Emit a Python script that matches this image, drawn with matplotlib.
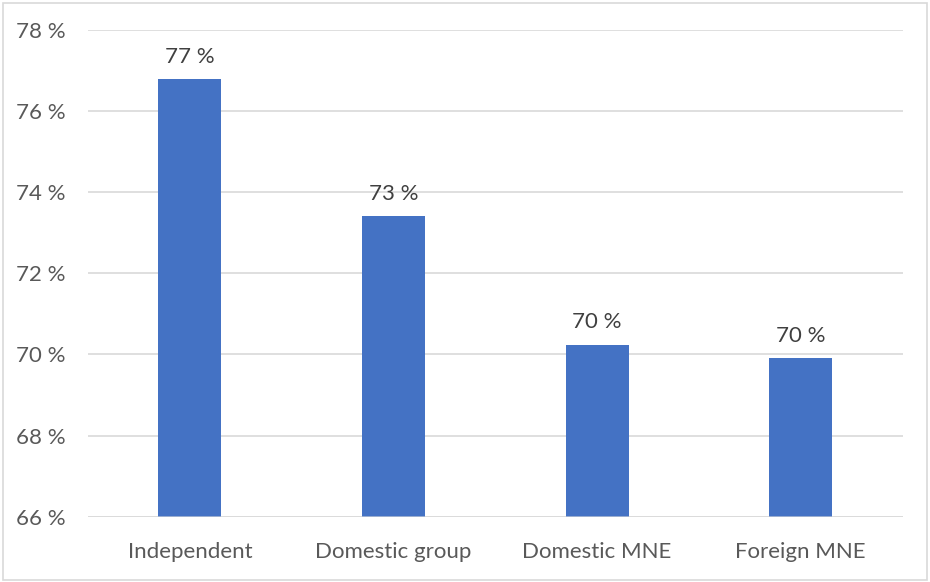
import matplotlib
matplotlib.use("Agg")
import matplotlib.pyplot as plt
from matplotlib.patches import Rectangle

categories = ["Independent", "Domestic group", "Domestic MNE", "Foreign MNE"]
values = [76.78, 73.41, 70.24, 69.91]
labels = ["77 %", "73 %", "70 %", "70 %"]
yticks = [66, 68, 70, 72, 74, 76, 78]
ytick_labels = ["66 %", "68 %", "70 %", "72 %", "74 %", "76 %", "78 %"]

plt.rcParams['font.family'] = ['Lato', 'DejaVu Sans']
text_color = "#595959"
label_color = "#404040"
bar_color = "#4472C4"
grid_color = "#D9D9D9"

fig = plt.figure(figsize=(9.3, 5.82), dpi=100)
ax = fig.add_axes([88/930, 1 - 516.7/582, (902.5-88)/930, (516.7-30)/582])

x = list(range(len(categories)))
bars = ax.bar(x, [v - 66 for v in values], bottom=66, width=0.31, color=bar_color, zorder=2)
ax.set_xlim(-0.5, len(categories) - 0.5)
ax.set_ylim(66, 78)
ax.set_yticks(yticks)
ax.set_yticklabels(ytick_labels)
ax.set_xticks(x)
ax.set_xticklabels(categories)
ax.tick_params(axis='both', length=0, colors=text_color, labelsize=16)
ax.tick_params(axis='y', pad=16)
ax.tick_params(axis='x', pad=18)
ax.grid(axis='y', color=grid_color, linewidth=1.2, zorder=0)
ax.set_axisbelow(True)
for s in ax.spines.values():
    s.set_visible(False)
ax.axhline(66, color=grid_color, linewidth=1.2, zorder=3, alpha=0.7)

for xi, v, lab in zip(x, values, labels):
    ax.annotate(lab, (xi, v), xytext=(0, 9), textcoords='offset points',
                ha='center', va='bottom', fontsize=16, color=label_color)

fig.patches.append(Rectangle((3/930, 2/582), 924/930, 577/582, transform=fig.transFigure,
                             fill=False, edgecolor=grid_color, linewidth=1.2))

fig.savefig("out.png", dpi=100)
